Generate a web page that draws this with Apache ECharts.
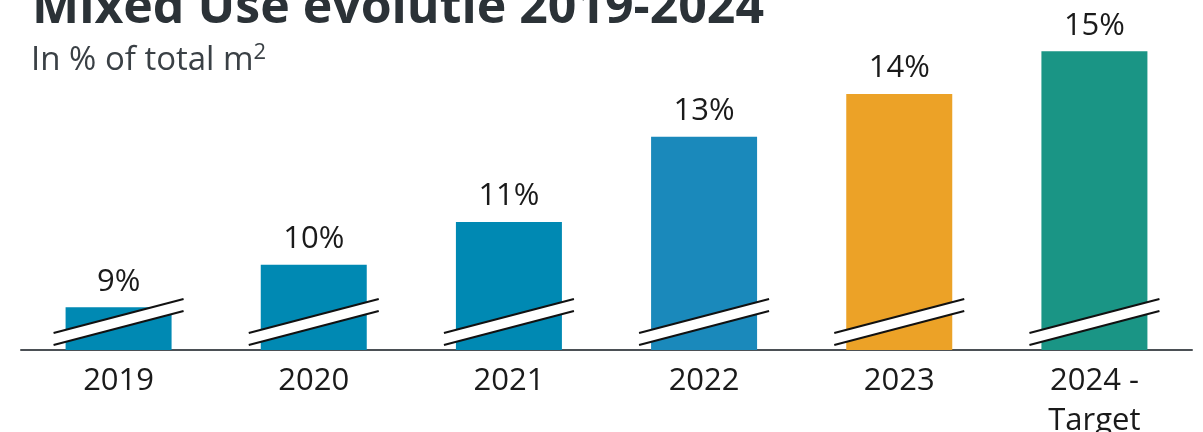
<!DOCTYPE html>
<html>
<head>
<meta charset="utf-8">
<style>
  html, body { margin: 0; padding: 0; background: #fff; }
  #chart { width: 1203px; height: 432px; }
</style>
<script src="https://cdn.jsdelivr.net/npm/echarts@6/dist/echarts.min.js"></script>
</head>
<body>
<div id="chart"></div>
<script>
// Share of mixed-use floor space per year
const years = ['2019', '2020', '2021', '2022', '2023', '2024 -\nTarget'];
const shares = [9, 10, 11, 13, 14, 15];

// Bar fills per year (2023 realised, 2024 target highlighted)
const barColors = ['#0089b3', '#0089b3', '#0089b3', '#1a89bb', '#eca227', '#1a9585'];

// Value axis starts above zero; the slanted break marks show the cut
const AXIS_MIN = 8;
const AXIS_MAX = 15.5;
const BAR_W = 106;
const FONT = '"Open Sans", "Lato", sans-serif';

const chart = echarts.init(document.getElementById('chart'), null, { renderer: 'canvas' });

function renderBreak(params, api) {
  const base = api.coord([api.value(0), AXIS_MIN]);
  const cx = base[0], by = base[1];
  const half = BAR_W / 2 + 12;
  const x0 = cx - half, x1 = cx + half;
  const up0 = by - 17, up1 = by - 51;
  const lo0 = by - 5, lo1 = by - 39;
  const line = { stroke: '#111', lineWidth: 2 };
  return {
    type: 'group',
    children: [
      { type: 'polygon', shape: { points: [[x0, up0], [x1, up1], [x1, lo1], [x0, lo0]] }, style: { fill: '#fff' } },
      { type: 'line', shape: { x1: x0, y1: up0, x2: x1, y2: up1 }, style: line },
      { type: 'line', shape: { x1: x0, y1: lo0, x2: x1, y2: lo1 }, style: line }
    ]
  };
}

chart.setOption({
  animation: false,
  backgroundColor: '#ffffff',
  graphic: [
    {
      type: 'text', left: 32, top: -16,
      style: { text: 'Mixed Use evolutie 2019-2024', font: 'bold 50px ' + FONT, fill: '#2b3237' }
    },
    {
      type: 'text', left: 31, top: 42,
      style: {
        text: 'In % of total m{sup|2}',
        font: '33px ' + FONT, fill: '#3a4045',
        rich: { sup: { fontSize: 22, fontFamily: FONT, fill: '#3a4045', verticalAlign: 'top', padding: [0, 0, 16, 0] } }
      }
    }
  ],
  grid: { left: 21, right: 11, top: 30, bottom: 82, containLabel: false, outerBoundsMode: 'none' },
  xAxis: {
    type: 'category',
    data: years,
    axisLine: { show: true, lineStyle: { color: '#4b5055', width: 2 } },
    axisTick: { show: false },
    axisLabel: { color: '#1a1a1a', fontSize: 31, fontFamily: FONT, margin: 11, lineHeight: 40, interval: 0 }
  },
  yAxis: {
    type: 'value', min: AXIS_MIN, max: AXIS_MAX, show: false,
    splitLine: { show: false }
  },
  series: [
    {
      type: 'bar',
      barWidth: BAR_W,
      data: shares.map((v, i) => ({ value: v, itemStyle: { color: barColors[i] } })),
      label: {
        show: true, position: 'top', distance: 10,
        formatter: '{c}%', color: '#1a1a1a', fontSize: 31, fontFamily: FONT
      },
      z: 2
    },
    {
      type: 'custom',
      renderItem: renderBreak,
      data: shares.map((v, i) => [i, v]),
      clip: false,
      silent: true,
      z: 3
    }
  ]
});
</script>
</body>
</html>
